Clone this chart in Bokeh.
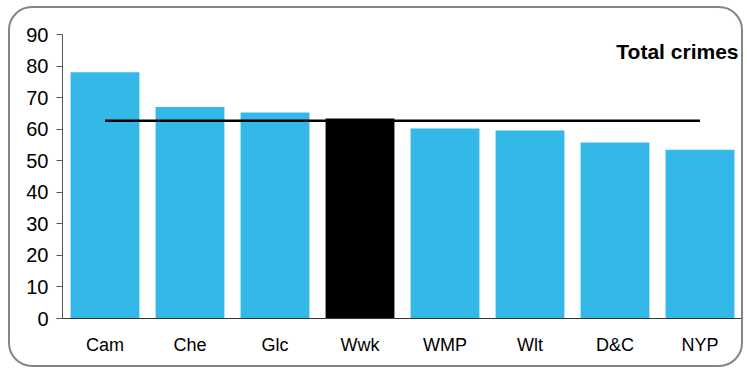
from bokeh.plotting import figure
from bokeh.models import ColumnDataSource, FactorRange, Label, FixedTicker
from bokeh.embed import file_html
from bokeh.resources import INLINE

categories = ["Cam", "Che", "Glc", "Wwk", "WMP", "Wlt", "D&C", "NYP"]
values = [78.0, 67.0, 65.3, 63.4, 60.2, 59.6, 55.8, 53.5]
colors = ["#33b8e8", "#33b8e8", "#33b8e8", "#000000", "#33b8e8", "#33b8e8", "#33b8e8", "#33b8e8"]
average = 62.7
y_ticks = [0, 10, 20, 30, 40, 50, 60, 70, 80, 90]
title_text = "Total crimes"

FONT = "Liberation Sans"

p = figure(x_range=FactorRange(*categories, range_padding=0), y_range=(0, 90),
           width=735, height=361, output_backend="svg", toolbar_location=None,
           min_border_left=52, min_border_right=3, min_border_top=26, min_border_bottom=51)
p.styles = {"border": "2px solid #858585", "border-radius": "24px",
            "margin-top": "6px", "margin-left": "8px"}

src = ColumnDataSource(dict(cat=categories, val=values, color=colors))
p.vbar(x="cat", top="val", width=0.81, fill_color="color", line_color=None, source=src)
p.line(x=[categories[0], categories[-1]], y=[average, average], line_color="#000000", line_width=2.5)

p.add_layout(Label(x=676, y=267, x_units="screen", y_units="screen", text=title_text,
                   text_align="right", text_baseline="alphabetic", text_font=FONT,
                   text_font_size="21px", text_font_style="bold", text_color="#000000"))

p.xgrid.visible = False
p.ygrid.visible = False
p.outline_line_color = None
p.background_fill_color = "white"
p.border_fill_color = None

p.yaxis.ticker = FixedTicker(ticks=y_ticks)
p.yaxis.minor_tick_line_color = None
p.yaxis.major_tick_in = 0
p.yaxis.major_tick_out = 6
p.yaxis.major_tick_line_color = "#555555"
p.yaxis.axis_line_color = "#555555"
p.yaxis.major_label_text_font = FONT
p.yaxis.major_label_text_font_size = "20px"
p.yaxis.major_label_text_color = "#000000"
p.yaxis.major_label_standoff = 8

p.xaxis.major_tick_line_color = None
p.xaxis.major_tick_out = 0
p.xaxis.major_tick_in = 0
p.xaxis.minor_tick_line_color = None
p.xaxis.axis_line_color = "#333333"
p.xaxis.major_label_text_font = FONT
p.xaxis.major_label_text_font_size = "18px"
p.xaxis.major_label_text_color = "#000000"
p.xaxis.major_label_standoff = 16

open("out.html", "w").write(file_html(p, INLINE))
